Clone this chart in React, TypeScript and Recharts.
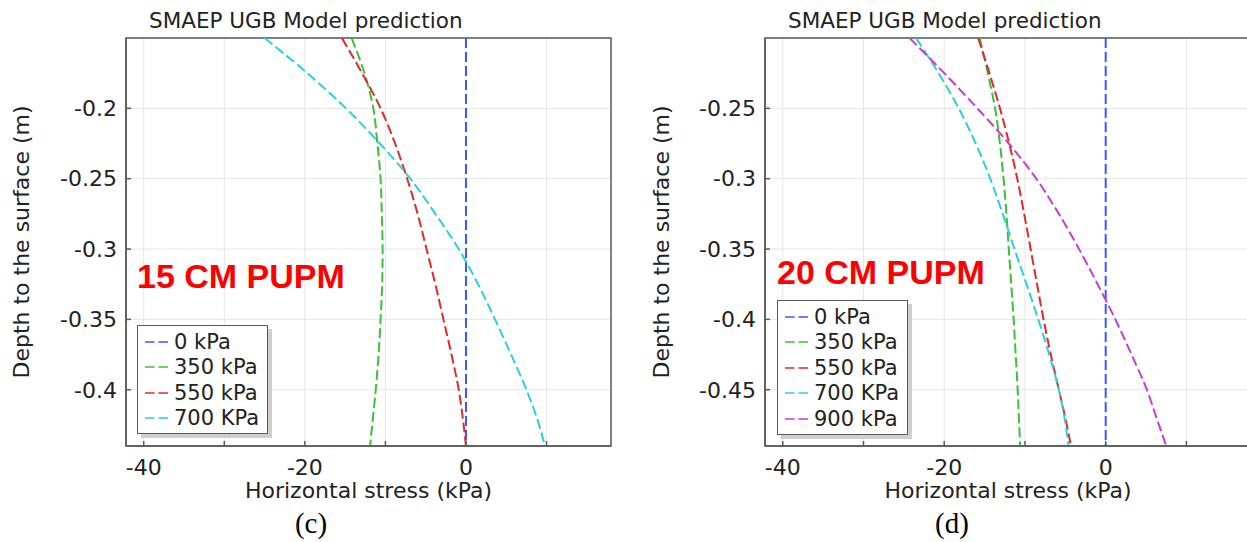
import * as React from "react";
import {
  CartesianGrid,
  Legend,
  Line,
  LineChart,
  ReferenceArea,
  XAxis,
  YAxis,
} from "recharts";

// 応力プロファイル（深さ m → 水平応力 kPa）。図から目視で読み取った値。

// (c) 15 CM PUPM
const DEPTH_C = [-0.15, -0.175, -0.2, -0.225, -0.25, -0.275, -0.3, -0.325, -0.35, -0.375, -0.4, -0.42, -0.44];
const C_0 = [0, 0, 0, 0, 0, 0, 0, 0, 0, 0, 0, 0, 0];
const C_350 = [-14.2, -12.6, -11.5, -11.0, -10.6, -10.45, -10.35, -10.4, -10.6, -10.85, -11.2, -11.55, -11.9];
const C_550 = [-15.4, -12.9, -10.6, -8.8, -7.3, -6.0, -4.9, -3.8, -2.8, -1.8, -0.9, -0.4, 0];
const C_700 = [-25.0, -19.7, -14.9, -10.7, -6.9, -3.8, -0.9, 1.5, 3.6, 5.6, 7.5, 8.8, 9.8];

// (d) 20 CM PUPM
const DEPTH_D = [-0.2, -0.225, -0.25, -0.275, -0.3, -0.325, -0.35, -0.375, -0.4, -0.425, -0.45, -0.47, -0.49];
const D_0 = [0, 0, 0, 0, 0, 0, 0, 0, 0, 0, 0, 0, 0];
const D_350 = [-15.6, -14.6, -13.7, -13.1, -12.65, -12.3, -12.0, -11.7, -11.4, -11.15, -10.9, -10.75, -10.6];
const D_550 = [-15.8, -14.4, -13.1, -11.95, -10.95, -10.1, -9.3, -8.5, -7.7, -6.8, -5.8, -5.0, -4.3];
const D_700 = [-23.5, -20.7, -18.2, -16.1, -14.3, -12.75, -11.3, -9.8, -8.35, -7.0, -5.8, -5.1, -4.6];
const D_900 = [-24.3, -20.0, -15.9, -12.0, -8.6, -5.8, -3.3, -1.0, 1.2, 3.2, 5.1, 6.3, 7.5];

const X_DOMAIN: [number, number] = [-42.2, 18];
const X_TICKS = [-40, -30, -20, -10, 0, 10];
const Y_TICKS_C = [-0.4, -0.35, -0.3, -0.25, -0.2];
const Y_TICKS_D = [-0.45, -0.4, -0.35, -0.3, -0.25];

const BLUE = "#3a58ff";
const GREEN = "#3cbf3c";
const RED = "#e02a2a";
const CYAN = "#2ad0dc";
const MAGENTA = "#c83cd0";

const FONT = "'DejaVu Sans', sans-serif";
const TEXT = "#222";
const AXIS = "#5a5a5a";
const DASH = "10 4";
const TICK = { fontSize: 22, fill: TEXT, fontFamily: FONT } as const;

type Series = { name: string; color: string; values: number[] };

const SERIES_C: Series[] = [
  { name: "0 kPa", color: BLUE, values: C_0 },
  { name: "350 kPa", color: GREEN, values: C_350 },
  { name: "550 kPa", color: RED, values: C_550 },
  { name: "700 KPa", color: CYAN, values: C_700 },
];

const SERIES_D: Series[] = [
  { name: "0 kPa", color: BLUE, values: D_0 },
  { name: "350 kPa", color: GREEN, values: D_350 },
  { name: "550 kPa", color: RED, values: D_550 },
  { name: "700 KPa", color: CYAN, values: D_700 },
  { name: "900 kPa", color: MAGENTA, values: D_900 },
];

function LegendBox({ payload }: { payload?: { value: string; color: string }[] }) {
  return (
    <div
      style={{
        background: "#fff",
        border: `1.5px solid ${AXIS}`,
        boxShadow: "4px 4px 0 #cfcfcf",
        padding: "3px 8px 2px 7px",
        fontFamily: FONT,
        fontSize: 21,
        color: TEXT,
      }}
    >
      {(payload ?? []).map((p) => (
        <div key={p.value} style={{ display: "flex", alignItems: "center", height: 25.5 }}>
          <svg width={24} height={10} style={{ marginRight: 5 }}>
            <line x1={0} y1={5} x2={24} y2={5} stroke={p.color} strokeWidth={2} strokeDasharray="9.5 4" opacity={0.75} />
          </svg>
          <span>{p.value}</span>
        </div>
      ))}
    </div>
  );
}

type PanelProps = {
  left: number;
  depth: number[];
  series: Series[];
  yDomain: [number, number];
  yTicks: number[];
  yAxisWidth: number;
  legendTop: number;
  note: string;
  noteTop: number;
  caption: string;
  captionX: number;
};

function Panel(p: PanelProps) {
  const rows = p.depth.map((d, i) => {
    const row: Record<string, number> = { depth: d };
    for (const s of p.series) row[s.name] = s.values[i];
    return row;
  });
  return (
    <div style={{ position: "absolute", left: p.left, top: 0, width: 620, height: 542 }}>
      <div
        style={{
          position: "absolute",
          left: p.yAxisWidth + 23,
          top: 10,
          fontFamily: FONT,
          fontSize: 21.5,
          lineHeight: "21px",
          color: TEXT,
          whiteSpace: "nowrap",
        }}
      >
        SMAEP UGB Model prediction
      </div>
      <LineChart
        layout="vertical"
        width={620}
        height={503}
        data={rows}
        margin={{ top: 38, right: 9, bottom: 0, left: 0 }}
      >
        <CartesianGrid stroke="#e6e6e6" strokeWidth={1} />
        <XAxis
          type="number"
          domain={X_DOMAIN}
          allowDataOverflow
          ticks={X_TICKS}
          tickFormatter={(v: number) => (v % 20 === 0 ? String(v) : "")}
          tick={TICK}
          tickSize={-5}
          tickMargin={18}
          height={57}
          stroke={AXIS}
          strokeWidth={1.5}
          label={{
            value: "Horizontal stress (kPa)",
            position: "insideBottom",
            offset: 5,
            style: { fontSize: 22, fill: TEXT, fontFamily: FONT },
          }}
        />
        <YAxis
          type="number"
          dataKey="depth"
          reversed
          domain={p.yDomain}
          allowDataOverflow
          ticks={p.yTicks}
          tick={TICK}
          tickSize={-5}
          tickMargin={14}
          width={p.yAxisWidth}
          stroke={AXIS}
          strokeWidth={1.5}
          label={{
            value: "Depth to the surface (m)",
            angle: -90,
            position: "insideLeft",
            offset: 21,
            style: { fontSize: 22, fill: TEXT, fontFamily: FONT, textAnchor: "middle" },
          }}
        />
        <ReferenceArea
          x1={X_DOMAIN[0]}
          x2={X_DOMAIN[1]}
          y1={p.yDomain[0]}
          y2={p.yDomain[1]}
          fill="none"
          stroke={AXIS}
          strokeWidth={1.5}
          ifOverflow="visible"
        />
        <Legend
          layout="horizontal"
          verticalAlign="middle"
          align="center"
          wrapperStyle={{ left: 137, top: p.legendTop, width: "auto" }}
          content={(props: any) => <LegendBox payload={props.payload} />}
        />
        {p.series.map((s) => (
          <Line
            key={s.name}
            type="monotone"
            dataKey={s.name}
            name={s.name}
            stroke={s.color}
            strokeWidth={2}
            strokeDasharray={DASH}
            dot={false}
            isAnimationActive={false}
          />
        ))}
      </LineChart>
      <div
        style={{
          position: "absolute",
          left: 137,
          top: p.noteTop,
          fontFamily: "'Liberation Sans', Arial, sans-serif",
          fontWeight: 700,
          fontSize: 34,
          lineHeight: "34px",
          color: "#ff0000",
          whiteSpace: "nowrap",
        }}
      >
        {p.note}
      </div>
      <div
        style={{
          position: "absolute",
          left: p.captionX - 50,
          top: 509,
          width: 100,
          textAlign: "center",
          fontFamily: "'Liberation Serif', 'Times New Roman', serif",
          fontSize: 29,
          lineHeight: "29px",
          color: "#000",
        }}
      >
        {p.caption}
      </div>
    </div>
  );
}

export default function App() {
  return (
    <div
      style={{
        position: "absolute",
        left: 0,
        top: 0,
        width: 1247,
        height: 542,
        overflow: "hidden",
        background: "#fff",
      }}
    >
      <Panel
        left={0}
        depth={DEPTH_C}
        series={SERIES_C}
        yDomain={[-0.44, -0.15]}
        yTicks={Y_TICKS_C}
        yAxisWidth={126}
        legendTop={325}
        note="15 CM PUPM"
        noteTop={259}
        caption="(c)"
        captionX={311}
      />
      <Panel
        left={640}
        depth={DEPTH_D}
        series={SERIES_D}
        yDomain={[-0.49, -0.2]}
        yTicks={Y_TICKS_D}
        yAxisWidth={125}
        legendTop={300}
        note="20 CM PUPM"
        noteTop={255}
        caption="(d)"
        captionX={312}
      />
    </div>
  );
}
